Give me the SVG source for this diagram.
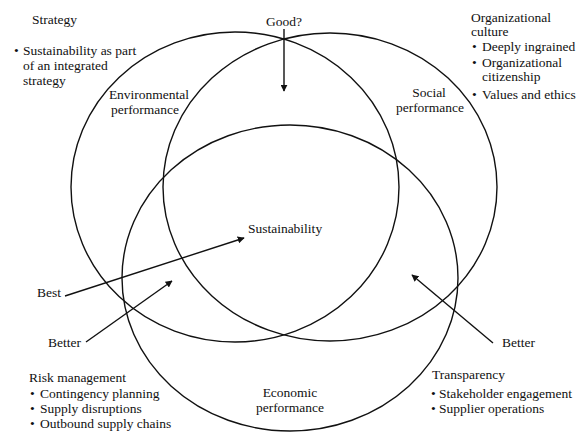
<svg xmlns="http://www.w3.org/2000/svg" width="582" height="432" viewBox="0 0 582 432">
<defs>
<style>
.c{fill:none;stroke:#111;stroke-width:1.4}
.a{fill:none;stroke:#111;stroke-width:1.4;marker-end:url(#ah)}
text{font-family:"Liberation Serif","Times New Roman",serif;font-size:13.5px;fill:#111}
.m{text-anchor:middle}
</style>
<marker id="ah" viewBox="0 0 10 10" refX="9" refY="5" markerWidth="7" markerHeight="7" markerUnits="userSpaceOnUse" orient="auto">
<path d="M0,0 L10,5 L0,10 z" fill="#111"/>
</marker>
</defs>
<rect width="582" height="432" fill="#fff"/>
<g id="environmental">
<ellipse class="c" cx="235" cy="187" rx="164" ry="155"/>
<text x="149" y="99" class="m">Environmental</text>
<text x="145" y="114" class="m">performance</text>
</g>
<g id="social">
<ellipse class="c" cx="330" cy="187" rx="167" ry="154"/>
<text x="429" y="97" class="m">Social</text>
<text x="430" y="112" class="m">performance</text>
</g>
<g id="economic">
<ellipse class="c" cx="290" cy="278" rx="168" ry="153"/>
<text x="290" y="397" class="m">Economic</text>
<text x="290" y="412" class="m">performance</text>
</g>
<g id="sustainability">
<text x="285" y="233" class="m">Sustainability</text>
</g>
<g id="strategy">
<text x="32" y="24">Strategy</text>
<text x="14" y="55">•<tspan x="23">Sustainability as part</tspan></text>
<text x="23" y="70">of an integrated</text>
<text x="23" y="85">strategy</text>
</g>
<g id="culture">
<text x="471" y="22">Organizational</text>
<text x="471" y="36">culture</text>
<text x="472" y="51">•<tspan x="482">Deeply ingrained</tspan></text>
<text x="472" y="67">•<tspan x="482">Organizational</tspan></text>
<text x="482" y="81">citizenship</text>
<text x="472" y="99">•<tspan x="482">Values and ethics</tspan></text>
</g>
<g id="risk">
<text x="29" y="382">Risk management</text>
<text x="30" y="398">•<tspan x="40">Contingency planning</tspan></text>
<text x="30" y="413">•<tspan x="40">Supply disruptions</tspan></text>
<text x="30" y="428">•<tspan x="40">Outbound supply chains</tspan></text>
</g>
<g id="transparency">
<text x="432" y="379">Transparency</text>
<text x="431" y="398">•<tspan x="439">Stakeholder engagement</tspan></text>
<text x="431" y="413">•<tspan x="439">Supplier operations</tspan></text>
</g>
<g id="good"><text x="284" y="26" class="m">Good?</text></g>
<g id="best"><text x="37" y="297">Best</text></g>
<g id="better-left"><text x="48" y="347">Better</text></g>
<g id="better-right"><text x="502" y="347">Better</text></g>
<g id="connectors">
<line class="a" x1="284" y1="29" x2="284" y2="91"/>
<line class="a" x1="65" y1="296" x2="244" y2="238"/>
<line class="a" x1="86" y1="342" x2="172" y2="281"/>
<line class="a" x1="493" y1="343" x2="412" y2="275"/>
</g>
</svg>
